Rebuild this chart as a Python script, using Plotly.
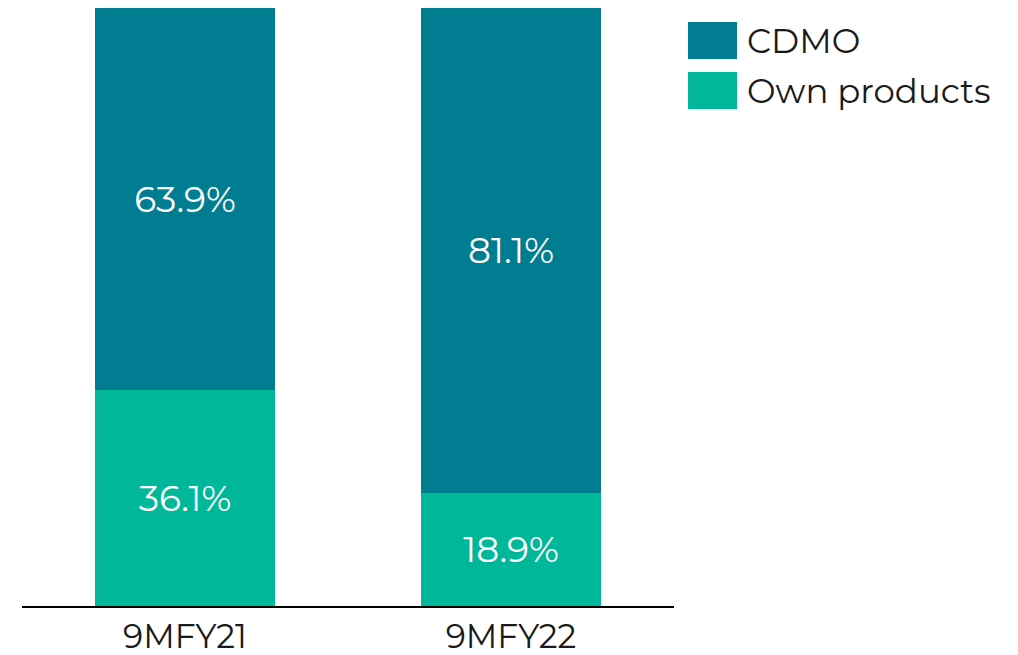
import plotly.graph_objects as go

periods = ['9MFY21', '9MFY22']
cdmo = [63.9, 81.1]
own_products = [36.1, 18.9]

series = [
    ('Own products', own_products, '#00B899'),
    ('CDMO', cdmo, '#007D91'),
]

FONT = 'Montserrat, Open Sans, sans-serif'
PLOT_H = 598
PLOT_W = 652

fig = go.Figure()
for name, vals, color in series:
    fig.add_trace(go.Bar(
        x=periods,
        y=vals,
        name=name,
        marker_color=color,
        marker_line_width=0,
        text=[f'{v:.1f}%' for v in vals],
        textposition='inside',
        insidetextanchor='middle',
        textfont=dict(color='white', size=36, family=FONT),
        showlegend=False,
    ))

# legend drawn by hand so the swatches are as big as in the original
legend_rows = [('CDMO', '#007D91'), ('Own products', '#00B899')]
for i, (name, color) in enumerate(legend_rows):
    top = 1 - (14 + i * 50) / PLOT_H
    fig.add_shape(type='rect', xref='paper', yref='paper',
                  x0=(688 - 22) / PLOT_W, x1=(737 - 22) / PLOT_W,
                  y0=top - 37 / PLOT_H, y1=top,
                  fillcolor=color, line_width=0)
    fig.add_annotation(xref='paper', yref='paper',
                       x=(745 - 22) / PLOT_W, y=top - 18.5 / PLOT_H,
                       text=name, showarrow=False,
                       xanchor='left', yanchor='middle',
                       font=dict(size=34, family=FONT, color='#1a1a1a'))

# page has an 8px body margin, so size the figure to fit inside the window
fig.update_layout(
    barmode='stack',
    bargap=0.445,
    width=1010,
    height=647,
    margin=dict(l=14, r=344, t=0, b=49),
    plot_bgcolor='white',
    paper_bgcolor='white',
)
fig.update_xaxes(showline=True, linecolor='black', linewidth=2,
                 ticks='', tickfont=dict(size=33, family=FONT, color='#1a1a1a'))
fig.update_yaxes(range=[0, 100], visible=False, showgrid=False)

fig.write_html('out.html')
